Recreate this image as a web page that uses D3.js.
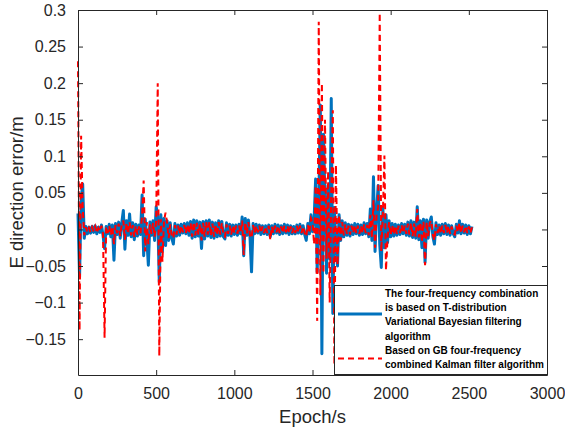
<!DOCTYPE html>
<html>
<head>
<meta charset="utf-8">
<script src="https://cdn.jsdelivr.net/npm/d3@7"></script>
<style>
  body { margin: 0; background: #fff; }
  text { font-family: "Liberation Sans", Arial, sans-serif; }
</style>
</head>
<body>
<div id="chart"></div>
<script>
// epoch step between samples (s)
const epochStep = 10;

// T-distribution variational Bayesian filter, E error (m), one value per 10 epochs
const tvbError = [
  0.022, -0.065, 0.041, 0.062, -0.012, 0.004, -0.006, 0.003, -0.005, 0.004,
  -0.004, 0.005, -0.006, 0.003, -0.004, 0.006, -0.008, -0.026, 0.004, -0.006,
  0.007, -0.01, 0.006, -0.042, 0.008, -0.007, 0.01, -0.012, 0.009, 0.026,
  -0.027, 0.012, -0.008, 0.021, -0.01, 0.009, -0.014, 0.007, -0.009, 0.006,
  -0.007, 0.047, -0.036, 0.014, -0.012, -0.049, 0.01, -0.008, 0.012, -0.015,
  0.031, 0.018, -0.072, 0.02, -0.03, 0.015, -0.022, 0.012, -0.015, 0.009,
  -0.012, -0.02, 0.008, -0.009, 0.006, -0.008, 0.007, -0.005, 0.008, -0.006,
  0.009, -0.008, 0.011, -0.012, 0.013, -0.01, 0.012, -0.009, 0.01, -0.026,
  0.011, -0.013, 0.012, -0.009, 0.013, -0.011, 0.01, -0.012, 0.009, -0.01,
  0.012, -0.009, 0.011, -0.01, -0.013, 0.009, -0.008, 0.007, -0.009, 0.006,
  -0.007, 0.006, -0.008, 0.007, -0.006, 0.017, -0.036, 0.015, -0.008, 0.013,
  -0.01, -0.058, 0.008, -0.006, 0.007, -0.005, 0.006, -0.007, 0.005, -0.006,
  0.005, -0.007, 0.006, -0.01, 0.005, -0.006, 0.007, -0.005, 0.006, -0.007,
  0.005, -0.006, 0.007, -0.005, 0.006, -0.007, 0.005, -0.006, 0.004, -0.006,
  0.006, -0.005, 0.007, -0.006, 0.005, -0.007, -0.015, 0.008, -0.006, 0.02,
  -0.003, 0.012, 0.069, -0.058, 0.03, 0.17, -0.17, 0.13, 0.04, -0.06,
  0.06, -0.04, 0.179, -0.115, 0.03, -0.02, -0.05, 0.02, -0.015, 0.012,
  -0.01, 0.009, -0.008, 0.007, -0.009, 0.006, -0.007, 0.008, -0.006, 0.007,
  -0.008, 0.006, -0.007, 0.009, -0.006, 0.008, -0.01, 0.028, -0.015, 0.072,
  -0.03, 0.025, 0.06, -0.02, -0.052, 0.03, -0.025, 0.02, -0.018, 0.012,
  -0.01, 0.008, -0.009, 0.007, -0.008, 0.006, -0.007, 0.008, -0.006, 0.007,
  -0.008, 0.01, -0.009, 0.012, -0.011, 0.01, -0.012, 0.031, -0.014, 0.012,
  -0.025, 0.014, -0.045, 0.013, -0.012, 0.011, 0.017, -0.01, -0.02, 0.009,
  -0.007, 0.006, -0.008, 0.007, -0.006, 0.008, -0.007, 0.006, -0.008, 0.005,
  -0.006, -0.01, 0.007, -0.005, 0.012, -0.006, 0.007, -0.005, 0.006, -0.007,
  0.005, -0.006, 0.004
];

// GB four-frequency Kalman filter, E error (m)
const kalmanError = [
  0.23, -0.138, 0.128, 0.03, -0.008, 0.003, -0.004, 0.002, -0.004, 0.003,
  -0.003, 0.004, -0.005, 0.002, -0.003, 0.005, -0.006, -0.148, 0.003, -0.005,
  0.005, -0.008, 0.004, -0.02, 0.006, -0.005, 0.008, -0.009, 0.007, 0.012,
  -0.014, 0.009, -0.006, 0.01, -0.008, 0.006, -0.01, 0.005, -0.007, 0.004,
  -0.005, 0.02, 0.067, -0.03, 0.01, -0.02, 0.007, -0.006, 0.009, -0.01,
  0.012, 0.2, -0.173, 0.014, -0.044, 0.011, 0.023, 0.009, -0.012, 0.007,
  -0.009, -0.012, 0.006, -0.007, 0.005, -0.006, 0.005, -0.004, 0.006, -0.005,
  0.007, -0.006, 0.009, -0.01, 0.01, -0.008, 0.009, -0.007, 0.008, -0.015,
  0.009, -0.01, 0.01, -0.007, 0.01, -0.009, 0.008, -0.01, 0.007, -0.008,
  0.01, -0.007, 0.009, -0.008, -0.01, 0.007, -0.006, 0.005, -0.007, 0.005,
  -0.005, 0.005, -0.006, 0.005, -0.005, 0.012, -0.035, 0.01, -0.006, 0.01,
  -0.008, -0.012, 0.006, -0.005, 0.005, -0.004, 0.005, -0.005, 0.004, -0.005,
  0.004, -0.005, 0.005, -0.014, 0.004, -0.005, 0.005, -0.004, 0.005, -0.005,
  0.004, -0.005, 0.005, -0.004, 0.005, -0.005, 0.004, -0.005, 0.003, -0.005,
  0.005, -0.004, 0.005, -0.005, 0.004, -0.005, -0.01, 0.006, -0.005, 0.015,
  0.01, -0.02, 0.06, -0.125, 0.284, -0.09, 0.2, -0.06, 0.15, -0.04,
  0.08, -0.1, 0.05, 0.163, -0.185, 0.088, -0.049, 0.02, -0.015, 0.01,
  -0.008, 0.007, -0.006, 0.005, -0.007, 0.005, -0.005, 0.006, -0.005, 0.005,
  -0.006, 0.005, -0.005, 0.007, -0.005, 0.006, -0.008, 0.02, -0.012, 0.04,
  -0.025, 0.02, 0.03, 0.296, -0.03, 0.02, 0.101, -0.056, -0.012, 0.01,
  -0.008, 0.006, -0.007, 0.005, -0.006, 0.005, -0.005, 0.006, -0.005, 0.005,
  -0.006, 0.008, -0.007, 0.009, -0.009, 0.008, -0.01, 0.028, -0.011, 0.01,
  -0.018, 0.011, -0.049, 0.01, -0.009, 0.009, 0.012, -0.008, -0.015, 0.007,
  -0.005, 0.005, -0.006, 0.005, -0.005, 0.006, -0.005, 0.005, -0.006, 0.004,
  -0.005, -0.007, 0.005, -0.004, 0.009, -0.005, 0.005, -0.004, 0.005, -0.005,
  0.004, -0.005, 0.003
];

const xTicks = [0, 500, 1000, 1500, 2000, 2500, 3000];
const yTicks = [-0.15, -0.1, -0.05, 0, 0.05, 0.1, 0.15, 0.2, 0.25, 0.3];

const legendLabels = [
  ["The four-frequency combination", "is based on T-distribution", "Variational Bayesian filtering", "algorithm"],
  ["Based on GB four-frequency", "combined Kalman filter algorithm"]
];

const W = 565, H = 430;
const margin = { top: 10, right: 18, bottom: 55, left: 78 };
const axisColor = "#262626";

const svg = d3.select("#chart")
  .append("svg")
  .attr("width", W)
  .attr("height", H);

svg.append("rect").attr("width", W).attr("height", H).attr("fill", "#fff");

const x = d3.scaleLinear()
  .domain([0, 3000])
  .range([margin.left, W - margin.right]);

const y = d3.scaleLinear()
  .domain([-0.199, 0.3])
  .range([H - margin.bottom, margin.top]);

const line = d3.line()
  .x((d, i) => x(i * epochStep))
  .y(d => y(d));

const plot = svg.append("g");

plot.append("path")
  .datum(tvbError)
  .attr("d", line)
  .attr("fill", "none")
  .attr("stroke", "#0072BD")
  .attr("stroke-width", 3)
  .attr("stroke-linejoin", "round");

plot.append("path")
  .datum(kalmanError)
  .attr("d", line)
  .attr("fill", "none")
  .attr("stroke", "#FF0000")
  .attr("stroke-width", 2)
  .attr("stroke-dasharray", "6,4");

// axes (ticks inside, box on)
const tickLen = 5;
const axBottom = svg.append("g")
  .attr("transform", `translate(0,${y(-0.199)})`)
  .call(d3.axisBottom(x).tickValues(xTicks).tickSizeInner(-tickLen).tickSizeOuter(0).tickPadding(13).tickFormat(d3.format("d")));

const axTop = svg.append("g")
  .attr("transform", `translate(0,${margin.top})`)
  .call(d3.axisTop(x).tickValues(xTicks).tickSizeInner(-tickLen).tickSizeOuter(0).tickFormat(""));

const axLeft = svg.append("g")
  .attr("transform", `translate(${margin.left},0)`)
  .call(d3.axisLeft(y).tickValues(yTicks).tickSizeInner(-tickLen).tickSizeOuter(0).tickPadding(12).tickFormat(d3.format("")));

const axRight = svg.append("g")
  .attr("transform", `translate(${x(3000)},0)`)
  .call(d3.axisRight(y).tickValues(yTicks).tickSizeInner(-tickLen).tickSizeOuter(0).tickFormat(""));

[axBottom, axTop, axLeft, axRight].forEach(g => {
  g.select(".domain").attr("stroke", axisColor);
  g.selectAll(".tick line").attr("stroke", axisColor);
  g.selectAll("text")
    .attr("fill", axisColor)
    .style("font-size", "16px")
    .style("font-family", "'Liberation Sans', Arial, sans-serif");
});

svg.append("text")
  .attr("x", (x(0) + x(3000)) / 2)
  .attr("y", 423)
  .attr("text-anchor", "middle")
  .attr("fill", axisColor)
  .style("font-size", "18.5px")
  .text("Epoch/s");

svg.append("text")
  .attr("transform", `translate(23,${(y(0.3) + y(-0.199)) / 2}) rotate(-90)`)
  .attr("text-anchor", "middle")
  .attr("fill", axisColor)
  .style("font-size", "18.5px")
  .text("E direction error/m");

// legend
const lg = svg.append("g");
lg.append("rect")
  .attr("x", 334.5).attr("y", 285.5)
  .attr("width", 213).attr("height", 89)
  .attr("fill", "#fff")
  .attr("stroke", axisColor)
  .attr("stroke-width", 1);

const lineH = 14.3;
const firstBase = 296.7;
legendLabels.forEach((lines, k) => {
  const start = k === 0 ? 0 : legendLabels[0].length;
  lines.forEach((t, j) => {
    lg.append("text")
      .attr("x", 385)
      .attr("y", firstBase + (start + j) * lineH)
      .attr("fill", "#000")
      .style("font-size", "10px")
      .style("font-weight", "bold")
      .text(t);
  });
});

lg.append("line")
  .attr("x1", 338).attr("x2", 382)
  .attr("y1", 314).attr("y2", 314)
  .attr("stroke", "#0072BD")
  .attr("stroke-width", 3);

lg.append("line")
  .attr("x1", 338).attr("x2", 382)
  .attr("y1", 358.5).attr("y2", 358.5)
  .attr("stroke", "#FF0000")
  .attr("stroke-width", 2)
  .attr("stroke-dasharray", "6,4");
</script>
</body>
</html>
